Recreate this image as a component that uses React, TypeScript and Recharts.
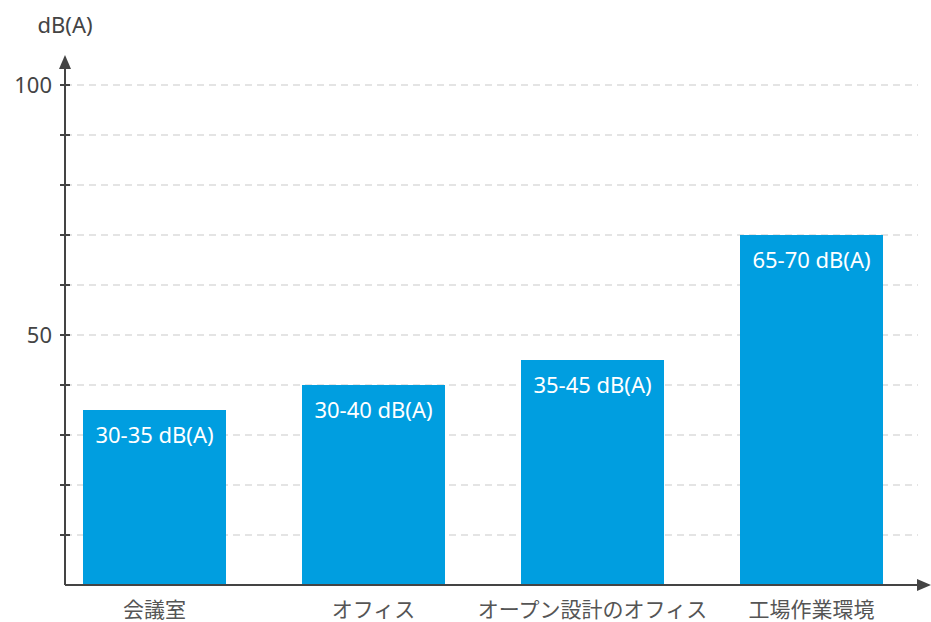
import React from "react"
import { Bar, BarChart, CartesianGrid, LabelList, XAxis, YAxis } from "recharts"

const categories = ["会議室", "オフィス", "オープン設計のオフィス", "工場作業環境"]
const levels = [35, 40, 45, 70]
const rangeLabels = ["30-35 dB(A)", "30-40 dB(A)", "35-45 dB(A)", "65-70 dB(A)"]
const yTicks = [10, 20, 30, 40, 50, 60, 70, 80, 90, 100]
const labelledTicks = [50, 100]
const yUnit = "dB(A)"
const yMax = 103.4

const data = categories.map((name, i) => ({
  name,
  level: levels[i],
  range: rangeLabels[i],
}))

const FONT = "'Noto Sans', 'Noto Sans CJK JP', sans-serif"
const AXIS = "#444444"
const BAR = "#009ee0"

function YTick(props: any) {
  const { x, y, payload } = props
  return (
    <g>
      <line x1={x - 5} x2={x + 5} y1={y} y2={y} stroke={AXIS} strokeWidth={2} />
      {labelledTicks.includes(payload.value) && (
        <text
          x={x - 13}
          y={y}
          dy="0.35em"
          textAnchor="end"
          fill="#444"
          fontSize={22}
          fontFamily={FONT}
        >
          {payload.value}
        </text>
      )}
    </g>
  )
}

function UnitLabel(props: any) {
  const { viewBox } = props
  return (
    <text
      x={viewBox.x + viewBox.width}
      y={viewBox.y - 35}
      textAnchor="middle"
      fill="#444"
      fontSize={22}
      fontFamily={FONT}
    >
      {yUnit}
    </text>
  )
}

// grid only on the tick values, not on the top edge of the plot
const gridRows = ({ offset }: any) =>
  yTicks.map((t) => offset.top + offset.height * (1 - t / yMax))

export default function App() {
  return (
    <div style={{ position: "absolute", left: 0, top: 0, fontFamily: FONT }}>
      <BarChart
        width={931}
        height={622}
        data={data}
        margin={{ top: 68, right: 13, bottom: 0, left: 0 }}
      >
        <defs>
          <marker
            id="axisArrow"
            markerWidth={14}
            markerHeight={12}
            refX={1}
            refY={6}
            orient="auto-start-reverse"
            markerUnits="userSpaceOnUse"
          >
            <path d="M0,0 L14,6 L0,12 z" fill={AXIS} />
          </marker>
        </defs>
        <CartesianGrid
          vertical={false}
          stroke="#dcdcdc"
          strokeWidth={1.5}
          strokeDasharray="7 5"
          horizontalCoordinatesGenerator={gridRows}
        />
        <XAxis
          dataKey="name"
          height={37}
          interval={0}
          tickLine={false}
          tickSize={0}
          tickMargin={17}
          padding={{ left: -20, right: -3 }}
          axisLine={{ stroke: AXIS, strokeWidth: 2, markerEnd: "url(#axisArrow)" }}
          tick={{ fill: "#555", fontSize: 21, fontFamily: FONT }}
        />
        <YAxis
          type="number"
          width={65}
          domain={[0, yMax]}
          ticks={yTicks}
          tickLine={false}
          tickSize={0}
          tickMargin={0}
          interval={0}
          axisLine={{ stroke: AXIS, strokeWidth: 2, markerStart: "url(#axisArrow)" }}
          tick={<YTick />}
          label={<UnitLabel />}
        />
        <Bar dataKey="level" fill={BAR} barSize={143} isAnimationActive={false}>
          <LabelList
            dataKey="range"
            position="insideTop"
            offset={17}
            fill="#ffffff"
            fontSize={22}
            fontFamily={FONT}
          />
        </Bar>
      </BarChart>
    </div>
  )
}
